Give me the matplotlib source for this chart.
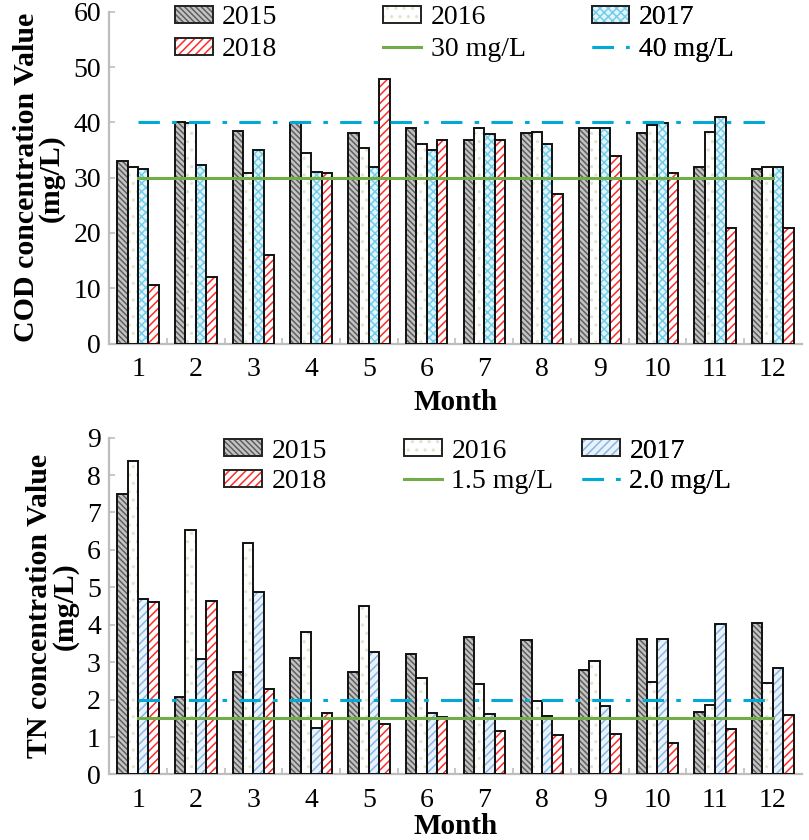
import numpy as np
import matplotlib
matplotlib.use("Agg")
from matplotlib import pyplot as plt
from matplotlib.patches import Patch
from matplotlib.legend_handler import HandlerTuple

plt.rcParams['font.family'] = ['Liberation Serif', 'DejaVu Serif']
plt.rcParams['hatch.linewidth'] = 1.1

months = list(range(1, 13))
years = ['2015', '2016', '2017', '2018']

# COD (mg/L)
cod_2015 = [33.0, 40.0, 38.4, 39.8, 38.0, 38.9, 36.9, 38.0, 38.9, 38.0, 31.9, 31.5]
cod_2016 = [32.0, 39.8, 30.9, 34.4, 35.3, 36.0, 38.9, 38.3, 38.9, 39.6, 38.2, 32.0]
cod_2017 = [31.5, 32.3, 35.0, 31.0, 32.0, 35.0, 37.9, 36.0, 38.9, 39.9, 41.0, 32.0]
cod_2018 = [10.6, 12.0, 16.0, 30.9, 47.9, 36.9, 36.9, 27.0, 33.9, 30.9, 20.9, 20.9]

# TN (mg/L)
tn_2015 = [7.50, 2.07, 2.74, 3.12, 2.74, 3.22, 3.67, 3.59, 2.80, 3.63, 1.67, 4.06]
tn_2016 = [8.37, 6.53, 6.19, 3.81, 4.50, 2.57, 2.41, 1.95, 3.02, 2.47, 1.86, 2.44]
tn_2017 = [4.69, 3.09, 4.87, 1.25, 3.28, 1.65, 1.62, 1.57, 1.84, 3.62, 4.02, 2.84]
tn_2018 = [4.61, 4.63, 2.29, 1.65, 1.34, 1.53, 1.15, 1.06, 1.08, 0.85, 1.21, 1.58]

cod_limits = [30, 40]
cod_limit_labels = ['30 mg/L', '40 mg/L']
tn_limits = [1.5, 2.0]
tn_limit_labels = ['1.5 mg/L', '2.0 mg/L']

# face, hatch colour, hatch pattern per year
styles = [
    ('#c4c4c4', '#5e5e5e', '\\\\\\\\\\\\'),
    ('#ffffff', '#e0e6cc', '..'),
    ('#e2f5fc', '#74cde8', 'xxxx'),
    ('#ffffff', '#ff2a2a', '////'),
]
tn_styles = [
    styles[0], styles[1],
    ('#eaf2fb', '#86b6e6', '////'),
    styles[3],
]
green = '#70ad47'
cyan = '#00a9d6'
grey = '#bdbdbd'


def draw_panel(ax, series, st, limits, limit_labels, ymax, ystep, ylabel,
               leg_x, leg_y, leg_sp, xpad):
    x = np.arange(1, 13)
    w = 0.18
    handles = []
    for i, (vals, (fc, hc, hp)) in enumerate(zip(series, st)):
        xs = x + (i - 1.5) * w
        ax.bar(xs, vals, w, color=fc, edgecolor=hc, hatch=hp, linewidth=0, zorder=2)
        ax.bar(xs, vals, w, fill=False, edgecolor='#111111', linewidth=1.4, zorder=3)
        handles.append((Patch(facecolor=fc, edgecolor=hc, hatch=hp, linewidth=0),
                        Patch(fill=False, edgecolor='#222222', linewidth=1.4)))
    l1, = ax.plot([1, 12], [limits[0]] * 2, color=green, lw=2.2, zorder=4)
    l2, = ax.plot([1, 12], [limits[1]] * 2, color=cyan, lw=2.2,
                  ls=(0, (7, 4, 1.5, 4)), zorder=4)
    ax.set_xlim(0.5, 12.5)
    ax.set_ylim(0, ymax)
    ax.set_yticks(np.arange(0, ymax + ystep / 2, ystep))
    ax.set_xticks(months)
    ax.set_xticks(np.arange(1.5, 12.5, 1), minor=True)
    ax.tick_params(axis='x', which='major', length=0, labelsize=20, pad=10)
    ax.tick_params(axis='x', which='minor', length=4, direction='in', color=grey, width=1.2)
    ax.tick_params(axis='y', length=4, direction='in', color=grey, width=1.2,
                   labelsize=20, pad=6)
    for s in ['top', 'right']:
        ax.spines[s].set_visible(False)
    for s in ['left', 'bottom']:
        ax.spines[s].set_color(grey)
        ax.spines[s].set_linewidth(1.6)
    ax.set_xlabel('Month', fontsize=21, fontweight='bold', labelpad=xpad)
    ax.set_ylabel(ylabel, fontsize=21.5, fontweight='bold', labelpad=6, linespacing=0.9)

    cols = [
        ([handles[0], handles[3]], [years[0], years[3]]),
        ([handles[1], l1], [years[1], limit_labels[0]]),
        ([handles[2], l2], [years[2], limit_labels[1]]),
    ]
    for cx, (hs, ls) in zip(leg_x, cols):
        leg = ax.legend(hs, ls, loc='upper left', bbox_to_anchor=(cx, leg_y),
                        frameon=False, fontsize=20, handlelength=1.35,
                        handleheight=0.55, handletextpad=0.35, labelspacing=leg_sp,
                        borderpad=0, borderaxespad=0,
                        handler_map={tuple: HandlerTuple(ndivide=1)})
        ax.add_artist(leg)


fig = plt.figure(figsize=(8.09, 8.40), dpi=100)
ax1 = fig.add_axes([0.135, 0.591, 0.856, 0.395])
ax2 = fig.add_axes([0.135, 0.078, 0.856, 0.401])

draw_panel(ax1, [cod_2015, cod_2016, cod_2017, cod_2018], styles,
           cod_limits, cod_limit_labels, 60, 10, 'COD concentration Value\n(mg/L)',
           [0.095, 0.396, 0.697], 1.02, 0.26, 5)
draw_panel(ax2, [tn_2015, tn_2016, tn_2017, tn_2018], tn_styles,
           tn_limits, tn_limit_labels, 9, 1, 'TN concentration Value\n(mg/L)',
           [0.166, 0.426, 0.683], 0.997, 0.2, 0)

fig.savefig('out.png', dpi=100)
